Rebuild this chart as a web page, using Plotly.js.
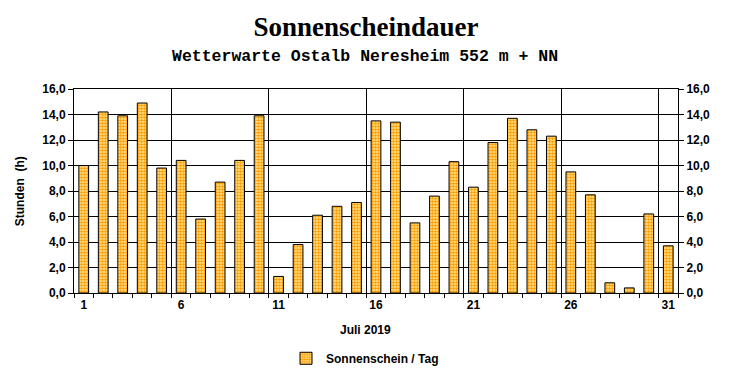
<!DOCTYPE html>
<html><head><meta charset="utf-8">
<script src="https://cdn.plot.ly/plotly-3.0.1.min.js"></script>
<style>html,body{margin:0;padding:0;background:#fff}#chart{width:732px;height:380px}</style>
</head><body><div id="chart"></div>
<script>
const days = [1,2,3,4,5,6,7,8,9,10,11,12,13,14,15,16,17,18,19,20,21,22,23,24,25,26,27,28,29,30,31];
const sunshine = [10.0,14.2,13.9,14.9,9.8,10.4,5.8,8.7,10.4,13.9,1.3,3.8,6.1,6.8,7.1,13.5,13.4,5.5,7.6,10.3,8.3,11.8,13.7,12.8,12.3,9.5,7.7,0.8,0.4,6.2,3.7];
const dayTickVals = [1,6,11,16,21,26,31];
const dayTickText = ['1','6','11','16','21','26','31'];
const weekGrid = [5.5,10.5,15.5,20.5,25.5,30.5];
const yTicks = [0,2,4,6,8,10,12,14,16];

const F = 'Liberation Sans, Arial, sans-serif';
const traces = [
  {type:'bar', x:days, y:sunshine, name:'Sonnenschein / Tag', width:0.5,
   marker:{color:'#ffcc55', line:{color:'#000', width:1},
     pattern:{shape:'.', fgcolor:'#ff9900', bgcolor:'#ffee99', size:3, solidity:0.6}},
   hoverinfo:'x+y'},
  {type:'scatter', mode:'markers', x:days, y:sunshine, xaxis:'x2', yaxis:'y2',
   marker:{opacity:0}, showlegend:false, hoverinfo:'skip'}
];
const layout = {
  width:732, height:380, margin:{l:74, r:54, t:89, b:87, autoexpand:false},
  paper_bgcolor:'#fff', plot_bgcolor:'#fff', separators:',.',
  title:{text:'<b>Sonnenscheindauer</b>', font:{family:'Liberation Serif, Times New Roman, serif', size:27, color:'#000'}, x:0.5, xanchor:'center', y:0.93, yanchor:'middle'},
  xaxis:{range:[0.5,31.5], tickmode:'array', tickvals:weekGrid, ticktext:weekGrid.map(()=>''), ticks:'',
    showgrid:true, gridcolor:'#000', gridwidth:1, zeroline:false,
    showline:true, linecolor:'#000', linewidth:1, mirror:true, automargin:false,
    minor:{tickmode:'linear', tick0:0.5, dtick:1, ticks:'outside', ticklen:4, tickcolor:'#000', showgrid:false}},
  xaxis2:{overlaying:'x', matches:'x', side:'bottom', range:[0.5,31.5], tickmode:'array', tickvals:dayTickVals, ticktext:dayTickText,
    ticks:'', ticklabelstandoff:3, showgrid:false, zeroline:false, showline:false, automargin:false,
    tickfont:{family:F, size:12, color:'#000', weight:'bold'}},
  yaxis:{range:[0,16], tickmode:'array', tickvals:yTicks, tickformat:'.1f', ticks:'outside', ticklen:5, tickcolor:'#000',
    showgrid:true, gridcolor:'#000', gridwidth:1, zeroline:false, showline:true, linecolor:'#000', linewidth:1, automargin:false,
    tickfont:{family:F, size:12, color:'#000', weight:'bold'}},
  yaxis2:{overlaying:'y', side:'right', range:[0,16], tickmode:'array', tickvals:yTicks, tickformat:'.1f', ticks:'outside', ticklen:5, tickcolor:'#000',
    showgrid:false, zeroline:false, showline:true, linecolor:'#000', linewidth:1, automargin:false,
    tickfont:{family:F, size:12, color:'#000', weight:'bold'}},
  showlegend:true,
  legend:{orientation:'h', x:0.351, xanchor:'left', y:-0.32, yanchor:'middle', bgcolor:'rgba(0,0,0,0)',
    font:{family:F, size:12, color:'#000', weight:'bold'}},
  annotations:[
    {text:'<b>Wetterwarte Ostalb Neresheim 552 m + NN</b>', xref:'paper', yref:'paper', x:0.482, y:1.157, xanchor:'center', yanchor:'middle', showarrow:false,
     font:{family:'Liberation Mono, Courier New, monospace', size:16.5, color:'#000'}},
    {text:'<b>Juli 2019</b>', xref:'paper', yref:'paper', x:0.482, y:-0.18, xanchor:'center', yanchor:'middle', showarrow:false,
     font:{family:F, size:12, color:'#000'}},
    {text:'<b>Stunden  (h)</b>', xref:'paper', yref:'paper', x:-0.089, y:0.5, xanchor:'center', yanchor:'middle', textangle:-90, showarrow:false,
     font:{family:F, size:12, color:'#000'}}
  ]
};
Plotly.newPlot('chart', traces, layout, {staticPlot:true});
</script></body></html>
